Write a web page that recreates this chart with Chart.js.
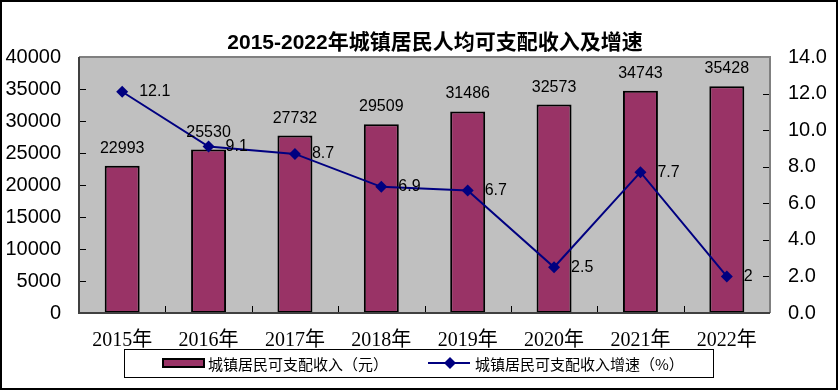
<!DOCTYPE html>
<html>
<head>
<meta charset="utf-8">
<script src="https://cdn.jsdelivr.net/npm/chart.js@4.4.1/dist/chart.umd.min.js"></script>
<style>
    html, body { margin: 0; padding: 0; background: #fff; }
</style>
</head>
<body>
<canvas id="incomeChart" width="838" height="390"></canvas>
<script>
const years = ['2015年', '2016年', '2017年', '2018年', '2019年', '2020年', '2021年', '2022年']
const income = [22993, 25530, 27732, 29509, 31486, 32573, 34743, 35428]
const growth = [12.1, 9.1, 8.7, 6.9, 6.7, 2.5, 7.7, 2]
const incomeTicks = [0, 5000, 10000, 15000, 20000, 25000, 30000, 35000, 40000]
const growthTicks = [0, 2, 4, 6, 8, 10, 12, 14]
const chartTitle = '2015-2022年城镇居民人均可支配收入及增速'

const sans = '"Liberation Sans", Arial, "Noto Sans CJK SC", sans-serif'
const serif = '"Liberation Serif", "Noto Sans CJK SC", serif'
const barColor = '#993366'
const lineColor = '#000080'

const decorations = {
    id: 'decorations',
    beforeDraw(chart) {
        const {ctx, chartArea: a} = chart
        ctx.save()
        ctx.fillStyle = '#fff'
        ctx.fillRect(0, 0, chart.width, chart.height)
        ctx.fillStyle = '#c0c0c0'
        ctx.fillRect(a.left, a.top, a.right - a.left, a.bottom - a.top)
        ctx.restore()
    },
    afterDatasetsDraw(chart) {
        const {ctx} = chart
        ctx.save()
        ctx.fillStyle = '#000'
        ctx.font = '16px ' + sans
        // bar values
        ctx.textAlign = 'center'
        ctx.textBaseline = 'alphabetic'
        chart.getDatasetMeta(0).data.forEach((bar, i) => {
            ctx.fillText(String(income[i]), bar.x, bar.y - 13)
        })
        // growth values
        ctx.textAlign = 'left'
        ctx.textBaseline = 'middle'
        chart.getDatasetMeta(1).data.forEach((pt, i) => {
            ctx.fillText(String(growth[i]), pt.x + 17, pt.y)
        })
        ctx.restore()
    },
    afterDraw(chart) {
        const {ctx, chartArea: a} = chart
        const yL = chart.scales.y
        const yR = chart.scales.y1
        ctx.save()

        // inward tick marks
        ctx.strokeStyle = '#000'
        ctx.lineWidth = 1
        ctx.beginPath()
        incomeTicks.forEach(v => {
            const py = Math.round(yL.getPixelForValue(v)) + 0.5
            ctx.moveTo(a.left, py); ctx.lineTo(a.left + 7, py)
        })
        growthTicks.forEach(v => {
            const py = Math.round(yR.getPixelForValue(v)) + 0.5
            ctx.moveTo(a.right - 7, py); ctx.lineTo(a.right, py)
        })
        const step = (a.right - a.left) / years.length
        for (let i = 1; i < years.length; i++) {
            const px = Math.round(a.left + step * i) + 0.5
            ctx.moveTo(px, a.bottom); ctx.lineTo(px, a.bottom - 7)
        }
        ctx.stroke()

        // plot frame
        ctx.lineWidth = 2
        ctx.strokeStyle = '#808080'
        ctx.beginPath()
        ctx.moveTo(a.left, a.top); ctx.lineTo(a.right, a.top); ctx.lineTo(a.right, a.bottom)
        ctx.stroke()
        ctx.strokeStyle = '#404040'
        ctx.beginPath()
        ctx.moveTo(a.left, a.top); ctx.lineTo(a.left, a.bottom); ctx.lineTo(a.right, a.bottom)
        ctx.stroke()

        // title
        ctx.fillStyle = '#000'
        ctx.font = 'bold 21px ' + sans
        ctx.textAlign = 'center'
        ctx.textBaseline = 'middle'
        ctx.fillText(chartTitle, 435, 43)

        // legend
        ctx.lineWidth = 1
        ctx.strokeStyle = '#000'
        ctx.strokeRect(124.5, 349.5, 589, 28)
        const ds = chart.data.datasets
        ctx.fillStyle = barColor
        ctx.fillRect(163, 359, 41, 8)
        ctx.lineWidth = 2
        ctx.strokeRect(163, 359, 41, 8)
        ctx.fillStyle = '#000'
        ctx.font = '15px "Noto Sans CJK SC", sans-serif'
        ctx.textAlign = 'left'
        ctx.fillText(ds[0].label, 208, 364)

        ctx.strokeStyle = lineColor
        ctx.beginPath()
        ctx.moveTo(428, 363); ctx.lineTo(470, 363)
        ctx.stroke()
        ctx.fillStyle = lineColor
        ctx.beginPath()
        ctx.moveTo(444, 363); ctx.lineTo(450, 357); ctx.lineTo(456, 363); ctx.lineTo(450, 369)
        ctx.closePath()
        ctx.fill()
        ctx.fillStyle = '#000'
        ctx.fillText(ds[1].label, 475, 364)

        // outer border
        ctx.lineWidth = 2
        ctx.strokeStyle = '#000'
        ctx.strokeRect(1, 1, chart.width - 2, chart.height - 2)
        ctx.restore()
    }
}

const ctx = document.getElementById('incomeChart').getContext('2d')

new Chart(ctx, {
    data: {
        labels: years,
        datasets: [
            {
                type: 'bar',
                label: '城镇居民可支配收入（元）',
                data: income,
                yAxisID: 'y',
                backgroundColor: barColor,
                borderColor: '#000',
                borderWidth: 2,
                borderSkipped: false,
                categoryPercentage: 1,
                barPercentage: 0.405,
                order: 2
            },
            {
                type: 'line',
                label: '城镇居民可支配收入增速（%）',
                data: growth,
                yAxisID: 'y1',
                borderColor: lineColor,
                backgroundColor: lineColor,
                borderWidth: 2,
                pointStyle: 'rectRot',
                pointRadius: 6,
                pointBorderWidth: 0,
                tension: 0,
                order: 1
            }
        ]
    },
    options: {
        responsive: false,
        animation: false,
        layout: {padding: {top: 57, left: 0, right: 0, bottom: 37}},
        plugins: {
            legend: {display: false},
            title: {display: false},
            tooltip: {enabled: false}
        },
        scales: {
            x: {
                offset: true,
                grid: {display: false, drawTicks: false},
                border: {display: false},
                ticks: {color: '#000', font: {size: 20, family: serif}, padding: 16, maxRotation: 0},
                afterFit(scale) { scale.height = 40 }
            },
            y: {
                position: 'left',
                min: 0,
                max: 40000,
                grid: {display: false, drawTicks: false},
                border: {display: false},
                ticks: {
                    stepSize: 5000,
                    color: '#000',
                    font: {size: 20, family: sans},
                    padding: 18,
                    callback: value => String(value)
                },
                afterFit(scale) { scale.width = 79 }
            },
            y1: {
                position: 'right',
                min: 0,
                max: 14,
                grid: {display: false, drawTicks: false},
                border: {display: false},
                ticks: {
                    stepSize: 2,
                    color: '#000',
                    font: {size: 20, family: sans},
                    padding: 18,
                    callback: value => value.toFixed(1)
                },
                afterFit(scale) { scale.width = 68 }
            }
        }
    },
    plugins: [decorations]
})
</script>
</body>
</html>
